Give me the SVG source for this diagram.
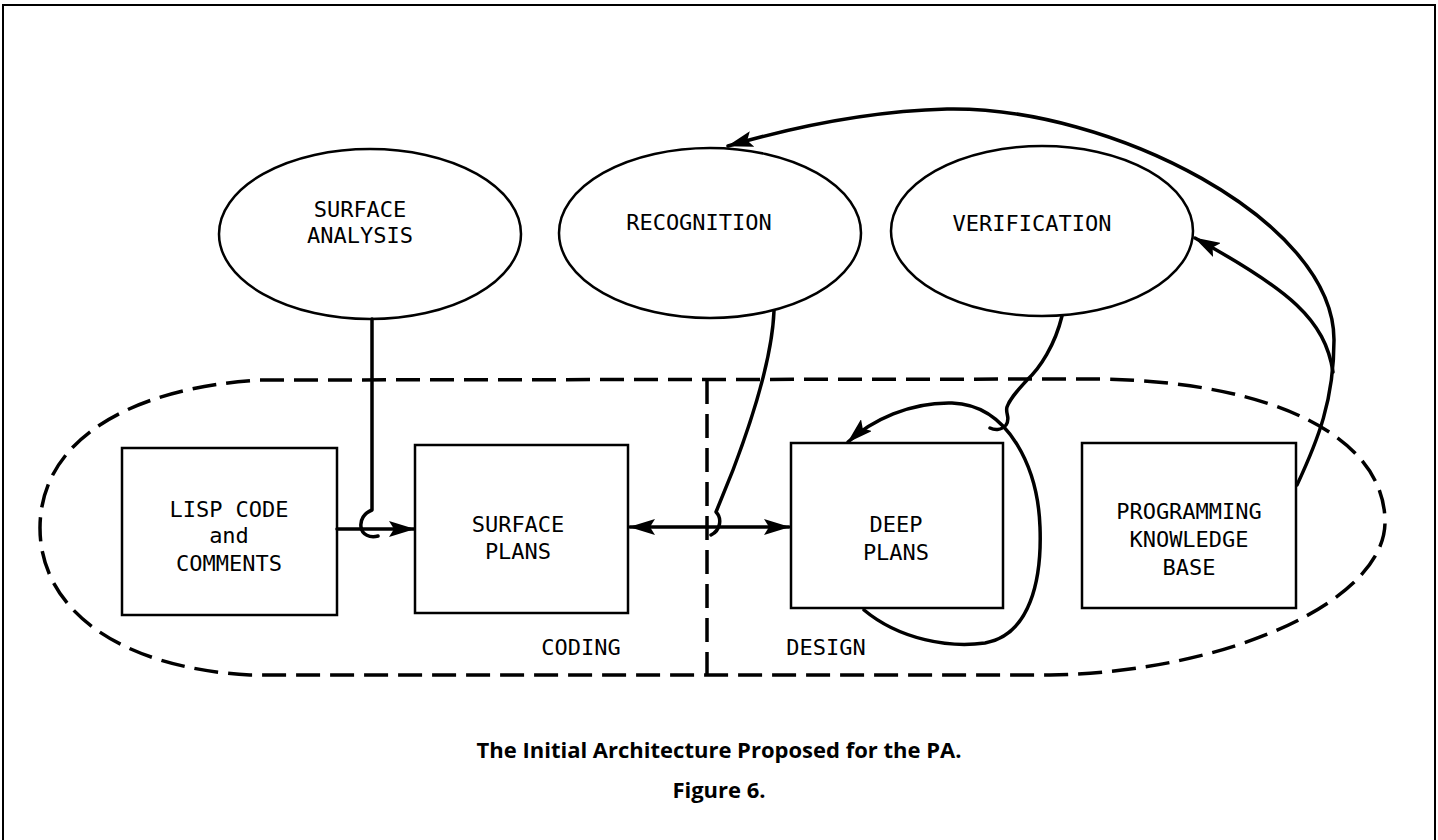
<svg xmlns="http://www.w3.org/2000/svg" width="1438" height="840" viewBox="0 0 1438 840">
  <defs>
    <marker id="arrow" viewBox="0 0 26 16" refX="25" refY="8" markerWidth="26" markerHeight="16" markerUnits="userSpaceOnUse" orient="auto-start-reverse">
      <path d="M0,0 L26,8 L0,16 L5,8 Z" fill="#000"/>
    </marker>
  </defs>
  <style>
    .frame { fill: none; stroke: #000; stroke-width: 2; }
    .region { fill: none; stroke: #000; stroke-width: 3.5; stroke-dasharray: 24 10; }
    .proc { fill: #fff; stroke: #000; stroke-width: 2.5; }
    .store { fill: #fff; stroke: #000; stroke-width: 2.5; }
    .wire { fill: none; stroke: #000; stroke-width: 3.5; stroke-linecap: round; stroke-linejoin: round; }
    .lbl { font-family: "DejaVu Sans Mono", "Liberation Mono", monospace; font-size: 22px; fill: #000; text-anchor: middle; }
    .cap { font-family: "Open Sans", Lato, sans-serif; font-weight: bold; font-size: 22px; fill: #000; text-anchor: middle; }
  </style>

  <rect fill="#fff" x="0" y="0" width="1438" height="840"/>
  <rect class="frame" x="3" y="5" width="1432" height="850"/>

  <!-- coding / design regions -->
  <g id="regions">
    <path class="region" d="M260,380 L1100,379 C1280,382 1385,440 1385,522 C1385,600 1230,672 1050,675 L250,675 C120,668 40,610 40,528 C40,440 130,388 260,380 Z"/>
    <path class="region" d="M707,380 L707,675"/>
    <text class="lbl" x="581" y="655">CODING</text>
    <text class="lbl" x="826" y="655">DESIGN</text>
  </g>

  <!-- process ellipses -->
  <g id="surface-analysis">
    <ellipse class="proc" cx="370" cy="234" rx="151" ry="85"/>
    <text class="lbl" x="360" y="217">SURFACE</text>
    <text class="lbl" x="360" y="243">ANALYSIS</text>
  </g>
  <g id="recognition">
    <ellipse class="proc" cx="710" cy="233" rx="151" ry="85"/>
    <text class="lbl" x="699" y="230">RECOGNITION</text>
  </g>
  <g id="verification">
    <ellipse class="proc" cx="1042" cy="231" rx="151" ry="85"/>
    <text class="lbl" x="1032" y="231">VERIFICATION</text>
  </g>

  <!-- data boxes -->
  <g id="lisp-code">
    <rect class="store" x="122" y="448" width="215" height="167"/>
    <text class="lbl" x="229" y="517">LISP CODE</text>
    <text class="lbl" x="229" y="543">and</text>
    <text class="lbl" x="229" y="571">COMMENTS</text>
  </g>
  <g id="surface-plans">
    <rect class="store" x="415" y="445" width="213" height="168"/>
    <text class="lbl" x="518" y="532">SURFACE</text>
    <text class="lbl" x="518" y="559">PLANS</text>
  </g>
  <g id="deep-plans">
    <rect class="store" x="791" y="443" width="212" height="165"/>
    <text class="lbl" x="896" y="532">DEEP</text>
    <text class="lbl" x="896" y="560">PLANS</text>
  </g>
  <g id="knowledge-base">
    <rect class="store" x="1082" y="443" width="214" height="165"/>
    <text class="lbl" x="1189" y="519">PROGRAMMING</text>
    <text class="lbl" x="1189" y="547">KNOWLEDGE</text>
    <text class="lbl" x="1189" y="575">BASE</text>
  </g>

  <!-- connectors -->
  <g id="connectors">
    <!-- LISP code to surface plans -->
    <path class="wire" d="M337,529 L414,529" marker-end="url(#arrow)"/>
    <!-- surface analysis joining that flow -->
    <path class="wire" d="M372,319 L372,510 C364,513 360,520 361,527 C362,535 370,538 378,536"/>
    <!-- surface plans <-> deep plans -->
    <path class="wire" d="M630,527 L789,527" marker-start="url(#arrow)" marker-end="url(#arrow)"/>
    <!-- recognition joining that flow -->
    <path class="wire" d="M774,311 C772,360 752,420 733,470 L716,512 C722,518 721,530 711,535"/>
    <!-- deep plans self loop -->
    <path class="wire" d="M864,610 C900,640 950,648 985,643 C1030,635 1042,580 1040,527 C1038,470 1010,405 952,403 C910,402 872,420 848,442" marker-end="url(#arrow)"/>
    <!-- verification joining the loop -->
    <path class="wire" d="M1062,316 C1055,345 1040,368 1027,380 C1018,390 1010,398 1007,407 C1005,414 1011,418 1006,425 C1001,431 994,430 990,428"/>
    <!-- knowledge base to recognition -->
    <path class="wire" d="M1297,485 C1318,440 1334,400 1334,340 C1334,220 1110,106 947,109 C870,111 790,128 728,146" marker-end="url(#arrow)"/>
    <!-- knowledge base to verification -->
    <path class="wire" d="M1333,372 C1325,320 1290,290 1195,238" marker-end="url(#arrow)"/>
  </g>

  <!-- caption -->
  <text class="cap" x="719" y="758">The Initial Architecture Proposed for the PA.</text>
  <text class="cap" x="719" y="798">Figure 6.</text>
</svg>
